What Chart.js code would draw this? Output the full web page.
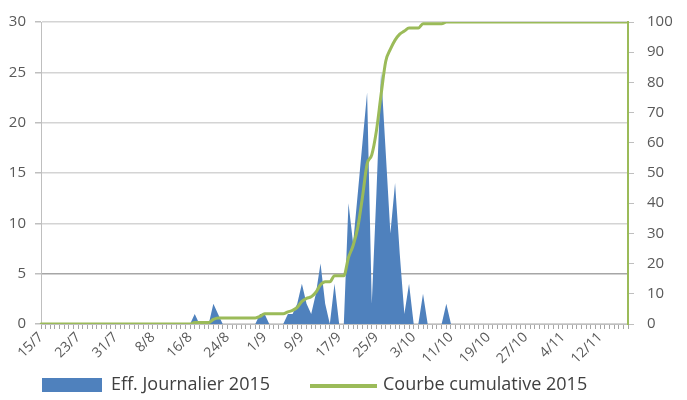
<!DOCTYPE html>
<html>
<head>
<meta charset="utf-8">
<script src="https://cdn.jsdelivr.net/npm/chart.js@4.4.0/dist/chart.umd.min.js"></script>
<style>
  html, body { margin: 0; padding: 0; background: #fff; }
  #wrap { position: relative; width: 687px; height: 400px; }
  #legend { position: absolute; left: 0; top: 0; width: 687px; height: 400px; pointer-events: none;
            font-family: "Open Sans", sans-serif; font-size: 18px; color: #404040; }
  .lg-box { position: absolute; left: 42px; top: 378px; width: 60px; height: 14px; background: #4f81bd; }
  .lg-line { position: absolute; left: 310px; top: 384px; width: 67px; height: 4px; background: #9bbb59; }
  .lg-text { position: absolute; top: 371px; white-space: nowrap; }
</style>
</head>
<body>
<div id="wrap">
  <canvas id="chart"></canvas>
  <div id="legend">
    <div class="lg-box"></div><div class="lg-text" style="left:111px">Eff. Journalier 2015</div>
    <div class="lg-line"></div><div class="lg-text" style="left:383px">Courbe cumulative 2015</div>
  </div>
</div>
<script>
// --- data (one value per day from 15/7/2015) ---
const nbDays = 127;
const tickEvery = 8;

const dailyCounts = [
  0, 0, 0, 0, 0, 0, 0, 0, 0, 0,      // 15/7 - 24/7
  0, 0, 0, 0, 0, 0, 0, 0, 0, 0,      // 25/7 - 3/8
  0, 0, 0, 0, 0, 0, 0, 0, 0, 0,      // 4/8 - 13/8
  0, 0, 0, 1, 0, 0, 0, 2, 1, 0,      // 14/8 - 23/8
  0, 0, 0, 0, 0, 0, 0, 1, 1, 0,      // 24/8 - 2/9
  0, 0, 0, 1, 1, 2, 4, 2, 1, 3,      // 3/9 - 12/9
  6, 2, 0, 4, 0, 0, 12, 8, 13, 18,   // 13/9 - 22/9
  23, 2, 13, 25, 17, 9, 14, 7, 1, 4, // 23/9 - 2/10
  0, 0, 3, 0, 0, 0, 0, 2, 0, 0,      // 3/10 - 12/10
  0, 0, 0, 0, 0, 0, 0, 0, 0, 0,      // 13/10 - 22/10
  0, 0, 0, 0, 0, 0, 0, 0, 0, 0,      // 23/10 - 1/11
  0, 0, 0, 0, 0, 0, 0, 0, 0, 0,      // 2/11 - 11/11
  0, 0, 0, 0, 0, 0, 0                // 12/11 - 18/11
];

const cumulPercent = [
  0, 0, 0, 0, 0, 0, 0, 0, 0, 0,
  0, 0, 0, 0, 0, 0, 0, 0, 0, 0,
  0, 0, 0, 0, 0, 0, 0, 0, 0, 0,
  0, 0, 0, 0.5, 0.5, 0.5, 0.5, 1.5, 2, 2,
  2, 2, 2, 2, 2, 2, 2, 2.5, 3.4, 3.4,
  3.4, 3.4, 3.4, 4, 4.5, 5.5, 7.5, 8.5, 9, 10.5,
  13, 14, 14, 16, 16, 16, 22, 26, 32, 42,
  53, 56, 64, 76, 87, 91, 94, 96, 97, 98,
  98, 98, 99.4, 99.4, 99.4, 99.4, 99.4, 100, 100, 100,
  100, 100, 100, 100, 100, 100, 100, 100, 100, 100,
  100, 100, 100, 100, 100, 100, 100, 100, 100, 100,
  100, 100, 100, 100, 100, 100, 100, 100, 100, 100,
  100, 100, 100, 100, 100, 100, 100
];

// day labels "d/m"
const dayLabels = [];
for (let i = 0; i < nbDays; i++) {
  const d = new Date(2015, 6, 15 + i);
  dayLabels.push(d.getDate() + '/' + (d.getMonth() + 1));
}

const tickFont = { family: '"Open Sans", sans-serif', size: 15 };
const gray = '#bfbfbf';

new Chart(document.getElementById('chart'), {
  type: 'line',
  data: {
    labels: dayLabels,
    datasets: [
      {
        label: 'Eff. Journalier 2015',
        data: dailyCounts,
        yAxisID: 'y',
        fill: 'origin',
        backgroundColor: '#4f81bd',
        borderColor: '#4f81bd',
        borderWidth: 0,
        pointRadius: 0,
        tension: 0,
        order: 1
      },
      {
        label: 'Courbe cumulative 2015',
        data: cumulPercent,
        yAxisID: 'y1',
        fill: false,
        borderColor: '#9bbb59',
        borderWidth: 3,
        borderJoinStyle: 'round',
        borderCapStyle: 'round',
        pointRadius: 0,
        cubicInterpolationMode: 'monotone',
        order: 0
      }
    ]
  },
  options: {
    responsive: true,
    maintainAspectRatio: false,
    animation: false,
    devicePixelRatio: 1,
    layout: { padding: { top: 19, right: 0, bottom: 30, left: 0 } },
    plugins: { legend: { display: false }, tooltip: { enabled: false } },
    scales: {
      x: {
        offset: false,
        grid: { display: true, drawOnChartArea: false, drawTicks: true, tickLength: 5, color: '#a6a6a6', tickColor: '#a6a6a6' },
        border: { color: gray },
        ticks: {
          autoSkip: false,
          maxRotation: 45,
          minRotation: 45,
          padding: 0,
          color: '#595959',
          font: { family: '"Open Sans", sans-serif', size: 14 },
          callback: (v, i) => (i % tickEvery === 0 ? dayLabels[i] : '')
        },
        afterFit: s => { s.height = 46; }
      },
      y: {
        position: 'left',
        min: 0,
        max: 30,
        grid: {
          color: c => (c.tick && c.tick.value === 5 ? '#a6a6a6' : '#d4d4d4'),
          lineWidth: 1.5,
          tickLength: 6,
          tickColor: gray
        },
        border: { color: gray },
        ticks: { stepSize: 5, padding: 9, color: '#595959', font: tickFont },
        afterFit: s => { s.width = 41; }
      },
      y1: {
        position: 'right',
        min: 0,
        max: 100,
        grid: { drawOnChartArea: false, tickLength: 6, color: gray },
        border: { color: '#9bbb59', width: 2 },
        ticks: { stepSize: 10, padding: 13, color: '#595959', font: tickFont },
        afterFit: s => { s.width = 59; }
      }
    }
  }
});
</script>
</body>
</html>
